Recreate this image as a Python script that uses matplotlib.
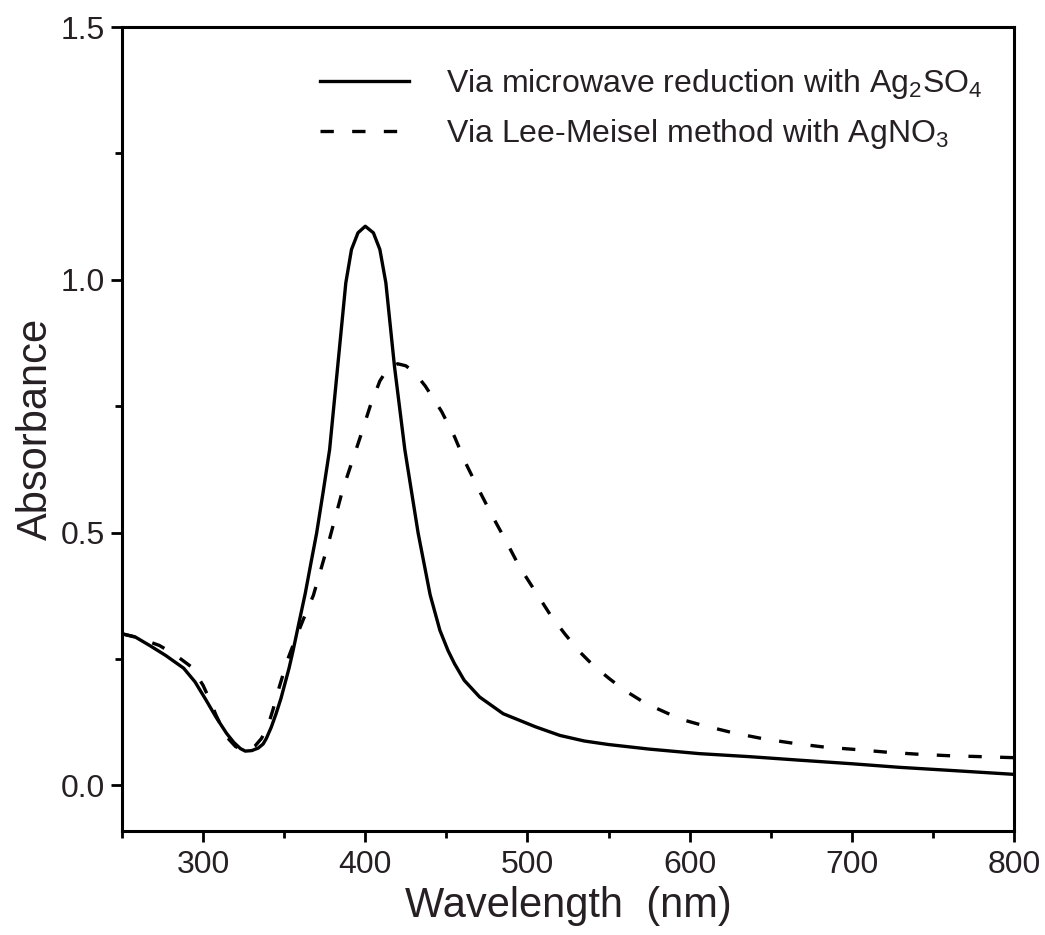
import numpy as np
import matplotlib.pyplot as plt
from matplotlib.ticker import MultipleLocator

# solid: microwave reduction with Ag2SO4
wl_mw = [250, 258, 267, 277, 288, 295, 302, 308, 314.5, 319, 323, 326, 330, 334, 337,
         339, 342, 345, 348, 350.5, 353, 355.5, 359, 363, 366.5, 370, 374, 378, 383,
         388, 391.5, 395.5, 400, 405, 409, 412.7, 418, 424.4, 432.6, 440, 446, 451,
         455, 461, 470.5, 485, 505, 520, 535, 550, 575, 606, 637, 668, 700, 729, 765, 800]
abs_mw = [0.300, 0.294, 0.277, 0.257, 0.232, 0.205, 0.168, 0.135, 0.103, 0.085, 0.073, 0.068, 0.069, 0.074, 0.082,
          0.093, 0.115, 0.142, 0.172, 0.202, 0.232, 0.267, 0.320, 0.380, 0.440, 0.499, 0.580, 0.664, 0.829,
          0.994, 1.060, 1.093, 1.106, 1.093, 1.060, 0.994, 0.829, 0.664, 0.499, 0.377, 0.307, 0.267,
          0.241, 0.208, 0.175, 0.142, 0.116, 0.099, 0.088, 0.081, 0.072, 0.063, 0.057, 0.050, 0.043, 0.036, 0.029, 0.022]

# dashed: Lee-Meisel method with AgNO3
wl_lm = [250, 260, 273, 283, 293, 300, 304, 308, 312, 316, 320, 324, 328, 332, 336,
         340, 343, 347, 352, 357, 362, 368, 377, 386, 397, 403, 409, 414, 420, 425,
         430, 437, 447, 455, 462, 470, 478, 487, 495, 505, 514, 523, 532, 541, 551,
         560, 570, 580, 589, 598, 608, 627, 646, 665, 683, 703, 721, 740, 759, 780, 800]
abs_lm = [0.300, 0.292, 0.277, 0.258, 0.234, 0.198, 0.170, 0.139, 0.112, 0.091, 0.077, 0.071, 0.071, 0.078, 0.093,
          0.118, 0.149, 0.195, 0.248, 0.290, 0.330, 0.376, 0.476, 0.584, 0.690, 0.750, 0.800, 0.825, 0.834, 0.830,
          0.818, 0.790, 0.740, 0.690, 0.637, 0.585, 0.535, 0.482, 0.433, 0.383, 0.338, 0.300, 0.265, 0.236, 0.210,
          0.188, 0.168, 0.152, 0.139, 0.128, 0.119, 0.104, 0.092, 0.083, 0.076, 0.071, 0.066, 0.062, 0.059, 0.057, 0.055]

labels = ['Via microwave reduction with Ag$_2$SO$_4$',
          'Via Lee-Meisel method with AgNO$_3$']

txt = '#262024'
plt.rcParams['font.family'] = ['Liberation Sans', 'DejaVu Sans']
plt.rcParams['mathtext.default'] = 'regular'

fig = plt.figure(figsize=(10.45, 9.35), dpi=100)
ax = fig.add_axes([122/1045, 1 - 831/935, (1014 - 122)/1045, (831 - 27)/935])

ax.plot(wl_mw, abs_mw, color='black', lw=2.4, label=labels[0])
ax.plot(wl_lm, abs_lm, color='black', lw=2.4, linestyle=(0, (4, 5.5)), label=labels[1])

ax.set_xlim(250, 800)
ax.set_ylim(-0.09, 1.5)
ax.xaxis.set_major_locator(MultipleLocator(100))
ax.xaxis.set_minor_locator(MultipleLocator(50))
ax.yaxis.set_major_locator(MultipleLocator(0.5))
ax.yaxis.set_minor_locator(MultipleLocator(0.25))
ax.yaxis.set_major_formatter(plt.FormatStrFormatter('%.1f'))

for s in ax.spines.values():
    s.set_linewidth(2.2)
ax.tick_params(which='major', length=8, width=2, labelsize=23, labelcolor=txt, pad=4)
ax.tick_params(which='minor', length=5, width=2)
ax.tick_params(axis='x', which='major', pad=6)

ax.set_xlabel('Wavelength  (nm)', fontsize=30, color=txt, labelpad=4)
ax.set_ylabel('Absorbance', fontsize=30, color=txt, labelpad=4)

leg = ax.legend(loc='upper left', bbox_to_anchor=(291/1045, 1 - 38/935),
                bbox_transform=fig.transFigure, frameon=False, fontsize=23,
                handlelength=2.8, handletextpad=1.15, labelspacing=0.52)
for t in leg.get_texts():
    t.set_color(txt)

plt.savefig('out.png', dpi=100)
